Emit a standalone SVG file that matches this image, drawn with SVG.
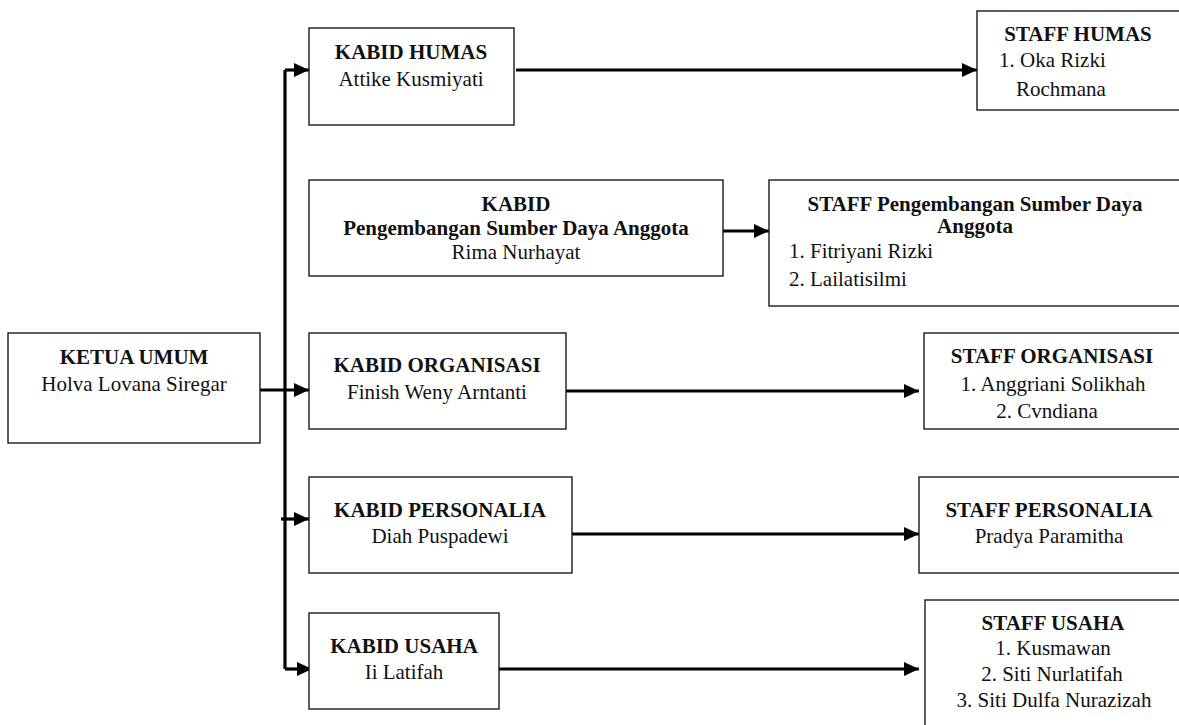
<svg xmlns="http://www.w3.org/2000/svg" width="1179" height="725" viewBox="0 0 1179 725">
<style>
.box{fill:#fff;stroke:#1a1a1a;stroke-width:1.4}
.t{font-family:"Liberation Serif","Times New Roman",serif;font-size:21px;fill:#111}
.b{font-weight:bold}
.m{text-anchor:middle}
.c{fill:none;stroke:#000;stroke-width:3.2}
</style>
<defs>
<marker id="ah" markerUnits="userSpaceOnUse" markerWidth="16" markerHeight="14" refX="15" refY="7" orient="auto">
<path d="M0,0 L15,7 L0,14 Z" fill="#000"/>
</marker>
</defs>
<rect width="1179" height="725" fill="#fff"/>
<g id="connectors">
<path class="c" d="M285,70 V669"/>
<path class="c" d="M285,70 H309" marker-end="url(#ah)"/>
<path class="c" d="M260,390 H309" marker-end="url(#ah)"/>
<path class="c" d="M281,519 H309" marker-end="url(#ah)"/>
<path class="c" d="M285,669 H312" marker-end="url(#ah)"/>
<path class="c" d="M516,70 H977" marker-end="url(#ah)"/>
<path class="c" d="M723,231 H769" marker-end="url(#ah)"/>
<path class="c" d="M566,391 H919" marker-end="url(#ah)"/>
<path class="c" d="M572,534 H919" marker-end="url(#ah)"/>
<path class="c" d="M499,669 H919" marker-end="url(#ah)"/>
</g>
<g id="ketua">
<rect class="box" x="8" y="333" width="252" height="110"/>
<text class="t b m" x="134" y="364">KETUA UMUM</text>
<text class="t m" x="134" y="391">Holva Lovana Siregar</text>
</g>
<g id="kabid-humas">
<rect class="box" x="309" y="28" width="205" height="97"/>
<text class="t b m" x="411" y="59">KABID HUMAS</text>
<text class="t m" x="411" y="86">Attike Kusmiyati</text>
</g>
<g id="kabid-psda">
<rect class="box" x="309" y="180" width="414" height="96"/>
<text class="t b m" x="516" y="211">KABID</text>
<text class="t b m" x="516" y="235">Pengembangan Sumber Daya Anggota</text>
<text class="t m" x="516" y="259">Rima Nurhayat</text>
</g>
<g id="kabid-organisasi">
<rect class="box" x="309" y="333" width="257" height="96"/>
<text class="t b m" x="437" y="372">KABID ORGANISASI</text>
<text class="t m" x="437" y="399">Finish Weny Arntanti</text>
</g>
<g id="kabid-personalia">
<rect class="box" x="309" y="477" width="263" height="96"/>
<text class="t b m" x="440" y="517">KABID PERSONALIA</text>
<text class="t m" x="440" y="543">Diah Puspadewi</text>
</g>
<g id="kabid-usaha">
<rect class="box" x="309" y="613" width="190" height="96"/>
<text class="t b m" x="404" y="653">KABID USAHA</text>
<text class="t m" x="404" y="679">Ii Latifah</text>
</g>
<g id="staff-humas">
<rect class="box" x="977" y="11" width="220" height="99"/>
<text class="t b m" x="1078" y="41">STAFF HUMAS</text>
<text class="t" x="999" y="67">1. Oka Rizki</text>
<text class="t" x="1016" y="96">Rochmana</text>
</g>
<g id="staff-psda">
<rect class="box" x="769" y="180" width="428" height="126"/>
<text class="t b m" x="975" y="211">STAFF Pengembangan Sumber Daya</text>
<text class="t b m" x="975" y="233">Anggota</text>
<text class="t" x="789" y="258">1. Fitriyani Rizki</text>
<text class="t" x="789" y="286">2. Lailatisilmi</text>
</g>
<g id="staff-organisasi">
<rect class="box" x="924" y="333" width="273" height="96"/>
<text class="t b m" x="1052" y="363">STAFF ORGANISASI</text>
<text class="t m" x="1053" y="391">1. Anggriani Solikhah</text>
<text class="t m" x="1047" y="418">2. Cvndiana</text>
</g>
<g id="staff-personalia">
<rect class="box" x="919" y="477" width="278" height="96"/>
<text class="t b m" x="1049" y="517">STAFF PERSONALIA</text>
<text class="t m" x="1049" y="543">Pradya Paramitha</text>
</g>
<g id="staff-usaha">
<rect class="box" x="925" y="600" width="272" height="140"/>
<text class="t b m" x="1053" y="630">STAFF USAHA</text>
<text class="t m" x="1053" y="655">1. Kusmawan</text>
<text class="t m" x="1052" y="681">2. Siti Nurlatifah</text>
<text class="t m" x="1054" y="707">3. Siti Dulfa Nurazizah</text>
</g>
</svg>
